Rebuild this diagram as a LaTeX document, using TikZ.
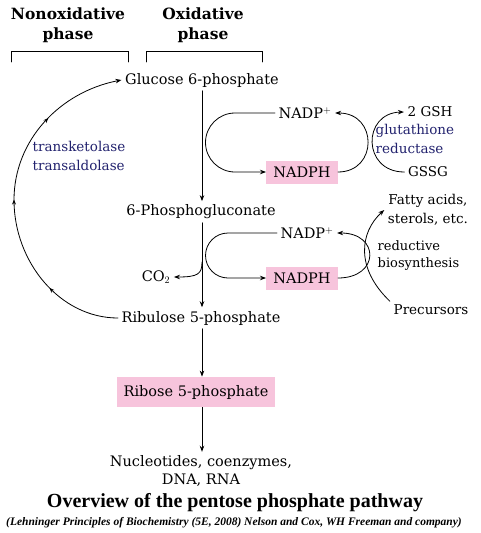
\documentclass[tikz,border=0pt]{standalone}
\usepackage{fontspec}
\setmainfont{DejaVu Serif}
\newfontfamily\titlefont{Liberation Serif}
\usetikzlibrary{arrows.meta,decorations.markings}
\definecolor{boxpink}{HTML}{F7C4DC}
\definecolor{enzblue}{HTML}{22226E}

\begin{document}
\begin{tikzpicture}[%
        x = 1pt,
        y = -1pt,
        line width = 0.8pt,
        line cap = round,
        font = \fontsize{14.5}{17}\selectfont,
        arr/.style = {-{Stealth[length=6pt,width=4.5pt]}},
        hilite/.style = {fill = boxpink, inner xsep = 7pt, minimum height = 23pt},
        enzyme/.style = {text = enzblue, align = left, anchor = west,
            font = \fontsize{13.5}{19}\selectfont},
        small/.style = {font = \fontsize{13.5}{19}\selectfont},
        phase/.style = {align = center, font = \fontsize{15.5}{20}\selectfont\bfseries},
        midarrows/.style = {postaction = {decorate}, decoration = {markings,
            mark = at position 0.22 with {\arrow{Stealth[length=5pt,width=4pt]}},
            mark = at position 0.5 with {\arrow{Stealth[length=5pt,width=4pt]}},
            mark = at position 0.76 with {\arrow{Stealth[length=5pt,width=4pt]}}}}
    ]
        \useasboundingbox (0,0) rectangle (480,533);

        % Phase headings and their brackets.
        \node[phase] (nonox) at (68,25) {Nonoxidative\\phase};
        \node[phase] (oxid) at (203,25) {Oxidative\\phase};
        \draw (11,62) -- (11,51) -- (128,51) -- (128,62);
        \draw (146,62) -- (146,51) -- (262,51) -- (262,62);

        % Main line of the pathway.
        \node (g6p) at (202,80) {Glucose 6-phosphate};
        \node (pg) at (201,212) {6-Phosphogluconate};
        \node (ru5p) at (201,318) {Ribulose 5-phosphate};
        \node[hilite, minimum height = 30pt] (r5p) at (196,392) {Ribose 5-phosphate};
        \node[align = center, font = \fontsize{14.5}{18}\selectfont] (nuc) at (201,471)
            {Nucleotides, coenzymes,\\DNA, RNA};
        \node (co2) at (156,277) {CO$_2$};

        % Cofactors.
        \node (nadpa) at (305,113) {NADP$^+$};
        \node[hilite] (nadpha) at (302,172) {NADPH};
        \node (nadpb) at (307,233) {NADP$^+$};
        \node[hilite] (nadphb) at (302,278) {NADPH};

        % Glutathione and biosynthesis side.
        \node[small] (gsh) at (430,112) {2 GSH};
        \node[small] (gssg) at (428,172) {GSSG};
        \node[enzyme] (glut) at (372,139) {glutathione\\reductase};
        \node[small, align = center] (fatty) at (428,210) {Fatty acids,\\sterols, etc.};
        \node[small, align = left, anchor = west, font = \fontsize{13}{17}\selectfont]
            (redbio) at (374,256) {reductive\\biosynthesis};
        \node[small] (prec) at (431,310) {Precursors};
        \node[enzyme] (trans) at (29,156) {transketolase\\transaldolase};

        % Title and source.
        \node[font = \titlefont\fontsize{20}{22}\selectfont\bfseries] (title) at (235,503)
            {Overview of the pentose phosphate pathway};
        \node[font = \titlefont\fontsize{11.5}{13}\selectfont\bfseries\itshape] (cite) at (234,523)
            {(Lehninger Principles of Biochemistry (5E, 2008) Nelson and Cox, WH Freeman and company)};

        % Arrows down the pathway.
        \coordinate (co2br) at (202,262);
        \draw[arr] (g6p.south -| 202,0) -- (pg.north -| 202,0);
        \draw[arr] (pg.south -| 202,0) -- (ru5p.north -| 202,0);
        \draw[arr] (co2br) .. controls (202,274) and (198,277) .. (co2.east);
        \draw[arr] (ru5p.south -| 202,0) -- (r5p.north -| 202,0);
        \draw[arr] (r5p.south -| 202,0) -- (nuc.north -| 202,0);

        % NADP+/NADPH loops.
        \draw[arr] (nadpa.west) -- (235,113) arc[start angle = 270, end angle = 90, radius = 29.5]
            -- (nadpha.west);
        \draw[arr] (nadpha.east) .. controls (378,172) and (378,113) .. (nadpa.east);
        \draw[arr] (nadpb.west) -- (228,233) arc[start angle = 270, end angle = 90, radius = 22.5]
            -- (nadphb.west);
        \draw[arr] (nadphb.east) .. controls (380,278) and (380,233) .. (nadpb.east);

        % Coupled reactions.
        \draw[arr] (gssg.west) .. controls (362,172) and (362,113) .. (gsh.west);
        \draw[arr] (prec.north west) .. controls (355,268) and (360,232) .. (fatty.west);

        % Recycling through the nonoxidative phase.
        \coordinate (lft) at (14,200);
        \draw[arr, midarrows] (ru5p.west) .. controls (60,318) and (14,262) .. (lft)
            .. controls (14,140) and (60,92) .. (g6p.west);
    \end{tikzpicture}
\end{document}
